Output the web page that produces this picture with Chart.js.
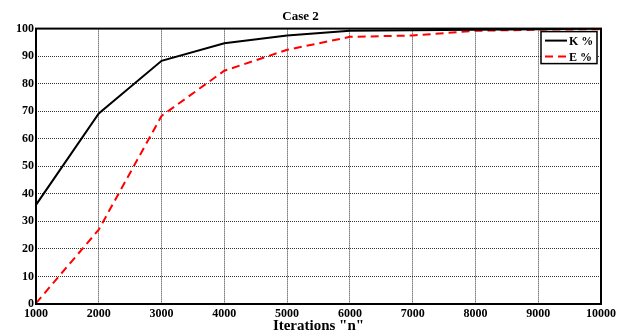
<!DOCTYPE html>
<html>
<head>
<meta charset="utf-8">
<script src="https://cdn.jsdelivr.net/npm/chart.js@4"></script>
<style>
  html, body { margin: 0; padding: 0; background: #fff; }
  #wrap { width: 630px; height: 334px; }
</style>
</head>
<body>
<div id="wrap"><canvas id="myChart" width="630" height="334"></canvas></div>
<script>
// values
const iterations = [1000, 2000, 3000, 4000, 5000, 6000, 7000, 8000, 9000, 10000];
const kPercent = [36, 69.2, 88.3, 94.7, 97.5, 99.2, 99.4, 99.6, 99.8, 100];
const ePercent = [0.3, 27, 68.3, 84.7, 92.3, 97, 97.5, 99.2, 99.6, 99.8];
const seriesLabels = ['K %', 'E %'];

const FONT = "'Liberation Serif', 'DejaVu Serif', serif";

// frame round the plot area (top and right too)
const framePlugin = {
  id: 'frame',
  afterDatasetsDraw(chart) {
    const { ctx, chartArea: a } = chart;
    ctx.save();
    ctx.strokeStyle = '#000';
    ctx.lineWidth = 2;
    ctx.strokeRect(a.left, a.top, a.right - a.left, a.bottom - a.top);
    ctx.restore();
  },
};

// boxed legend in the top right corner, like the original figure
const boxLegend = {
  id: 'boxLegend',
  afterDraw(chart) {
    const { ctx, chartArea: a } = chart;
    const w = 56, h = 32;
    const x = a.right - 4 - w, y = a.top + 3;
    ctx.save();
    ctx.fillStyle = '#fff';
    ctx.fillRect(x, y, w, h);
    ctx.strokeStyle = '#000';
    ctx.lineWidth = 1.5;
    ctx.strokeRect(x, y, w, h);
    ctx.font = 'bold 12px ' + FONT;
    ctx.textBaseline = 'middle';
    chart.data.datasets.forEach((ds, i) => {
      const cy = y + 9 + i * 16;
      ctx.beginPath();
      ctx.strokeStyle = ds.borderColor;
      ctx.lineWidth = 2;
      ctx.setLineDash(ds.borderDash || []);
      ctx.moveTo(x + 4, cy);
      ctx.lineTo(x + 26, cy);
      ctx.stroke();
      ctx.setLineDash([]);
      ctx.fillStyle = '#000';
      ctx.fillText(ds.label, x + 28, cy + 1);
    });
    ctx.restore();
  },
};

const ctx = document.getElementById('myChart').getContext('2d');

const chart = new Chart(ctx, {
  type: 'line',
  data: {
    datasets: [
      {
        label: seriesLabels[0],
        data: iterations.map((n, i) => ({ x: n, y: kPercent[i] })),
        borderColor: '#000',
        borderWidth: 2,
        pointRadius: 0,
        tension: 0,
      },
      {
        label: seriesLabels[1],
        data: iterations.map((n, i) => ({ x: n, y: ePercent[i] })),
        borderColor: '#ff0000',
        borderWidth: 2,
        borderDash: [8, 5],
        pointRadius: 0,
        tension: 0,
      },
    ],
  },
  options: {
    responsive: false,
    animation: false,
    layout: { padding: { left: 0, right: 29, top: 0, bottom: 0 } },
    plugins: {
      legend: { display: false },
      tooltip: { enabled: false },
      title: {
        display: true,
        text: 'Case 2',
        color: '#000',
        font: { family: FONT, size: 13, weight: 'bold' },
        padding: { top: 9, bottom: 4 },
      },
    },
    scales: {
      x: {
        type: 'linear',
        min: 1000,
        max: 10000,
        afterFit(scale) { scale.height = 30; },
        ticks: {
          stepSize: 1000,
          color: '#000',
          padding: 3,
          maxRotation: 0,
          font: { family: FONT, size: 12, weight: 'bold' },
          callback: (v) => String(v),
        },
        grid: {
          color: '#333',
          lineWidth: 1,
          drawTicks: false,
        },
        border: { display: false, dash: [1, 1] },
        title: {
          display: true,
          text: 'Iterations "n"',
          color: '#000',
          padding: { top: 0, bottom: -1 },
          font: { family: FONT, size: 15, weight: 'bold' },
        },
      },
      y: {
        min: 0,
        max: 100,
        afterFit(scale) { scale.width = 36; },
        ticks: {
          stepSize: 10,
          color: '#000',
          padding: 2,
          font: { family: FONT, size: 12, weight: 'bold' },
        },
        grid: {
          color: '#333',
          lineWidth: 1,
          drawTicks: false,
        },
        border: { display: false, dash: [1, 1] },
      },
    },
  },
  plugins: [framePlugin, boxLegend],
});
</script>
</body>
</html>
